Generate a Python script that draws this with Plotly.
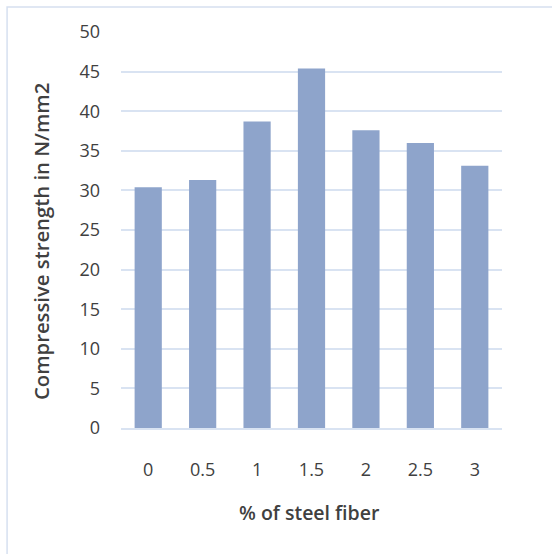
import plotly.graph_objects as go

# Steel fibre content (%) and measured compressive strength (N/mm2)
fiber_pct = ["0", "0.5", "1", "1.5", "2", "2.5", "3"]
strength = [30.4, 31.3, 38.7, 45.4, 37.6, 36.0, 33.1]

y_ticks = [0, 5, 10, 15, 20, 25, 30, 35, 40, 45, 50]

TEXT = "#404040"
GRID = "#D9E3F2"
FONT = "Open Sans"

fig = go.Figure()
fig.add_trace(
    go.Bar(
        x=fiber_pct,
        y=strength,
        marker=dict(color="#8EA4CB", line=dict(width=0)),
        hoverinfo="x+y",
    )
)

fig.update_layout(
    width=552,
    height=554,
    margin=dict(l=121, r=50, t=32, b=126),
    paper_bgcolor="white",
    plot_bgcolor="white",
    bargap=0.5,
    showlegend=False,
    font=dict(family=FONT, size=18, color=TEXT),
    xaxis=dict(
        type="category",
        showgrid=False,
        showline=True,
        linecolor=GRID,
        linewidth=1.5,
        ticks="",
        ticklabelstandoff=25,
        tickfont=dict(family=FONT, size=18, color=TEXT),
        fixedrange=True,
    ),
    yaxis=dict(
        range=[0, 50],
        tickvals=y_ticks,
        showgrid=True,
        gridcolor=GRID,
        gridwidth=1.5,
        zeroline=False,
        showline=False,
        ticks="",
        ticklabelstandoff=20,
        tickfont=dict(family=FONT, size=18, color=TEXT),
        fixedrange=True,
    ),
    annotations=[
        dict(
            text="Compressive strength in N/mm2",
            xref="paper", yref="paper",
            x=-0.21, y=0.472,
            xanchor="center", yanchor="middle",
            textangle=-90,
            showarrow=False,
            font=dict(family=FONT, size=20.3, color=TEXT, weight=600),
        ),
        dict(
            text="% of steel fiber",
            xref="paper", yref="paper",
            x=0.496, y=-0.2146,
            xanchor="center", yanchor="middle",
            showarrow=False,
            font=dict(family=FONT, size=19.5, color=TEXT, weight=600),
        ),
    ],
    shapes=[
        # light chart-area frame, running off the right and bottom edges
        dict(
            type="rect",
            xref="paper", yref="paper",
            x0=-0.299, x1=1.4, y0=-0.45, y1=1.063,
            line=dict(color="#D6E0F0", width=1.5),
            fillcolor="rgba(0,0,0,0)",
            layer="below",
        )
    ],
)

fig.write_html("out.html")
